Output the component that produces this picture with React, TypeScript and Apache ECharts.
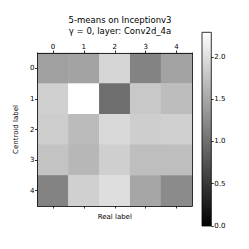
import React, { useEffect, useRef } from "react";
import * as echarts from "echarts";

const realLabels = ["0", "1", "2", "3", "4"];
const centroidLabels = ["0", "1", "2", "3", "4"];
// rows = centroid label, columns = real label
const row0 = [1.44, 1.46, 1.92, 1.18, 1.46];
const row1 = [1.87, 2.29, 0.99, 1.8, 1.7];
const row2 = [1.84, 1.68, 1.95, 1.85, 1.87];
const row3 = [1.75, 1.64, 1.86, 1.71, 1.71];
const row4 = [1.18, 1.87, 1.99, 1.49, 1.25];
const rows = [row0, row1, row2, row3, row4];
const colorMin = 0;
const colorMax = 2.29;
const colorbarTicks = [0, 0.5, 1.0, 1.5, 2.0];

const FONT = "DejaVu Sans";

export default function App() {
  const ref = useRef<HTMLDivElement>(null);
  useEffect(() => {
    if (!ref.current) return;
    const chart = echarts.init(ref.current, null, { renderer: "svg" });
    const data: [number, number, number][] = [];
    rows.forEach((r, yi) => r.forEach((v, xi) => data.push([xi, yi, v])));
    const axisLine = { show: true, lineStyle: { color: "#000", width: 0.8 } };
    const axisTick = { show: true, length: 2.5, lineStyle: { color: "#000", width: 0.8 } };
    chart.setOption({
      animation: false,
      backgroundColor: "#fff",
      textStyle: { fontFamily: FONT },
      title: {
        text: "5-means on Inceptionv3\nγ = 0, layer: Conv2d_4a",
        left: 115,
        top: 9,
        textAlign: "center",
        textStyle: { fontFamily: FONT, fontSize: 8.5, fontWeight: "normal", color: "#000", lineHeight: 11 },
      },
      grid: [
        { left: 37.5, top: 53, width: 154.5, height: 153, containLabel: false },
        { left: 202, top: 32.3, width: 9.3, height: 193.7, containLabel: false, show: true, borderColor: "#000", borderWidth: 0.8, z: 5 },
      ],
      visualMap: {
        show: false,
        type: "continuous",
        min: colorMin,
        max: colorMax,
        seriesIndex: 0,
        inRange: { color: ["#000000", "#ffffff"] },
      },
      xAxis: [
        {
          type: "category",
          gridIndex: 0,
          data: realLabels,
          position: "top",
          z: 5,
          axisLine,
          axisTick: { ...axisTick, alignWithLabel: true },
          axisLabel: { fontFamily: FONT, fontSize: 7, color: "#000", margin: 3 },
          splitLine: { show: false },
        },
        {
          type: "category",
          gridIndex: 0,
          data: realLabels,
          position: "bottom",
          z: 5,
          axisLine,
          axisTick: { ...axisTick, alignWithLabel: true },
          axisLabel: { show: false },
          name: "Real label",
          nameLocation: "middle",
          nameGap: 7,
          nameTextStyle: { fontFamily: FONT, fontSize: 7, color: "#000" },
        },
        {
          type: "category",
          gridIndex: 1,
          data: ["cb"],
          show: false,
        },
      ],
      yAxis: [
        {
          type: "category",
          gridIndex: 0,
          data: centroidLabels,
          inverse: true,
          position: "left",
          z: 5,
          axisLine,
          axisTick: { ...axisTick, alignWithLabel: true },
          axisLabel: { fontFamily: FONT, fontSize: 7, color: "#000", margin: 3 },
          name: "Centroid label",
          nameLocation: "middle",
          nameGap: 15,
          nameTextStyle: { fontFamily: FONT, fontSize: 7, color: "#000" },
        },
        {
          type: "category",
          gridIndex: 0,
          data: centroidLabels,
          inverse: true,
          position: "right",
          z: 5,
          axisLine,
          axisTick: { show: false },
          axisLabel: { show: false },
        },
        {
          type: "value",
          gridIndex: 1,
          min: colorMin,
          max: colorMax,
          interval: 0.5,
          position: "right",
          z: 6,
          axisLine: { show: false },
          axisTick: { ...axisTick, length: 2.5 },
          splitLine: { show: false },
          axisLabel: {
            fontFamily: FONT,
            fontSize: 7,
            color: "#000",
            margin: 3,
            showMaxLabel: false,
            formatter: (v: number) => (colorbarTicks.includes(Math.round(v * 10) / 10) ? v.toFixed(1) : ""),
          },
        },
      ],
      series: [
        {
          type: "heatmap",
          xAxisIndex: 0,
          yAxisIndex: 0,
          data,
          z: 1,
          itemStyle: { borderWidth: 0 },
          emphasis: { disabled: true },
        },
        {
          type: "bar",
          xAxisIndex: 2,
          yAxisIndex: 2,
          data: [colorMax],
          barWidth: "100%",
          z: 1,
          itemStyle: {
            color: new echarts.graphic.LinearGradient(0, 0, 0, 1, [
              { offset: 0, color: "#ffffff" },
              { offset: 1, color: "#000000" },
            ]),
          },
        },
      ],
    });
    return () => chart.dispose();
  }, []);
  return <div ref={ref} style={{ position: "fixed", left: 0, top: 0, width: 249, height: 249 }} />;
}
